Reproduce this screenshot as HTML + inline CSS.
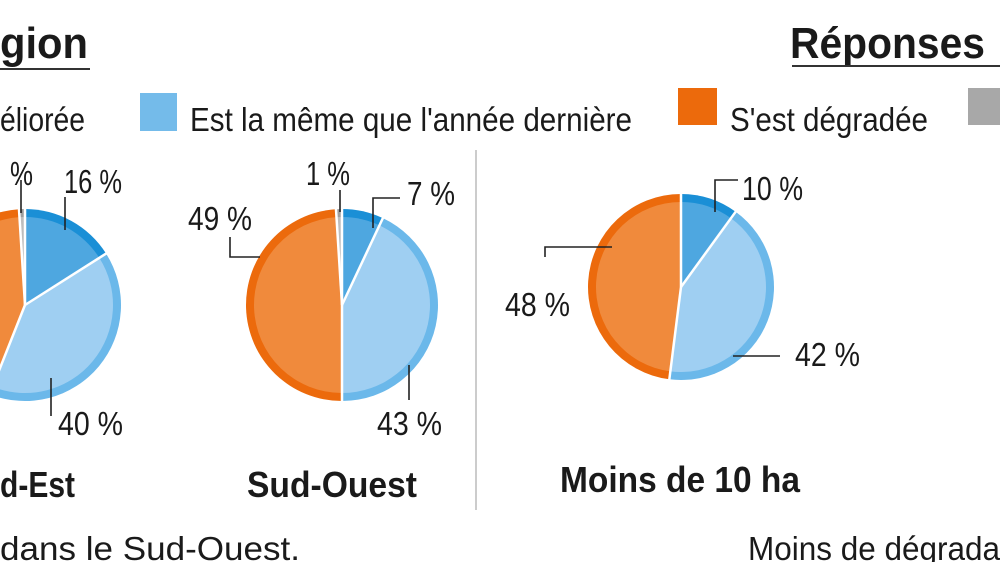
<!DOCTYPE html>
<html><head><meta charset="utf-8"><style>
body{margin:0;background:#fff;}
svg{display:block;font-family:"Liberation Sans",sans-serif;}
.t{fill:#1a1a1a;font-size:33px;}
.b{font-weight:bold;font-size:36px;fill:#1a1a1a;}
.l{stroke:#222;stroke-width:1.6;fill:none;}
</style></head><body>
<svg id="c" width="1000" height="562" viewBox="0 0 1000 562">
<text x="0" y="58" class="b" style="font-size:44px" textLength="88" lengthAdjust="spacingAndGlyphs">gion</text>
<line x1="0" y1="69" x2="90" y2="69" stroke="#333" stroke-width="2"/>
<text x="790" y="58" class="b" style="font-size:44px" textLength="195" lengthAdjust="spacingAndGlyphs">Réponses</text>
<line x1="792" y1="66" x2="1000" y2="66" stroke="#333" stroke-width="2"/>
<g>
<text x="0" y="131" class="t" textLength="85" lengthAdjust="spacingAndGlyphs">éliorée</text>
<rect x="140" y="93" width="37" height="38" fill="#74bbea"/>
<text x="190" y="131" class="t" textLength="442" lengthAdjust="spacingAndGlyphs">Est la même que l'année dernière</text>
<rect x="678" y="88" width="39" height="37" fill="#ec6a0c"/>
<text x="730" y="131" class="t" textLength="198" lengthAdjust="spacingAndGlyphs">S'est dégradée</text>
<rect x="968" y="88" width="40" height="37" fill="#a8a8a8"/>
</g>
<line x1="476" y1="150" x2="476" y2="510" stroke="#bbb" stroke-width="1.5"/>
<g id="pies"></g>
<g>
<text x="10" y="185" class="t" textLength="23" lengthAdjust="spacingAndGlyphs">%</text>
<path class="l" d="M21 180V213"/>
<text x="64" y="193" class="t" textLength="58" lengthAdjust="spacingAndGlyphs">16 %</text>
<path class="l" d="M65 197V230"/>
<text x="58" y="435" class="t" textLength="65" lengthAdjust="spacingAndGlyphs">40 %</text>
<path class="l" d="M51 378V416"/>
<text x="306" y="185" class="t" textLength="44" lengthAdjust="spacingAndGlyphs">1 %</text>
<path class="l" d="M340 190V212"/>
<text x="407" y="205" class="t" textLength="48" lengthAdjust="spacingAndGlyphs">7 %</text>
<path class="l" d="M400 198H373V228"/>
<text x="188" y="230" class="t" textLength="64" lengthAdjust="spacingAndGlyphs">49 %</text>
<path class="l" d="M230 237V257H260"/>
<text x="377" y="435" class="t" textLength="65" lengthAdjust="spacingAndGlyphs">43 %</text>
<path class="l" d="M409 365V400"/>
<text x="742" y="200" class="t" textLength="61" lengthAdjust="spacingAndGlyphs">10 %</text>
<path class="l" d="M738 180H715V212"/>
<text x="505" y="316" class="t" textLength="65" lengthAdjust="spacingAndGlyphs">48 %</text>
<path class="l" d="M545 257V247H612"/>
<text x="795" y="366" class="t" textLength="65" lengthAdjust="spacingAndGlyphs">42 %</text>
<path class="l" d="M733 356H780"/>
</g>
<text x="0" y="497" class="b" textLength="75" lengthAdjust="spacingAndGlyphs">d-Est</text>
<text x="247" y="497" class="b" textLength="170" lengthAdjust="spacingAndGlyphs">Sud-Ouest</text>
<text x="560" y="492" class="b" textLength="240" lengthAdjust="spacingAndGlyphs">Moins de 10 ha</text>
<text x="0" y="560" class="t" textLength="300" lengthAdjust="spacingAndGlyphs">dans le Sud-Ouest.</text>
<text x="748" y="560" class="t" textLength="252" lengthAdjust="spacingAndGlyphs">Moins de dégrada</text>
</svg>
<script>
const pieNames=["sud-est","sud-ouest","moins-de-10-ha"];
const improved=[16,7,10];
const same=[40,43,42];
const degraded=[43,49,48];
const other=[1,1,0];
const centers=[[25,305],[342,305],[681,287]];
const radii=[96,96,93];
const outerCol=["#1a8fd6","#6bb8ea","#ec6a0c","#9e9e9e"];
const innerCol=["#4ea7e0","#9fcff2","#f08a3c","#bdbdbd"];
const seriesNames=["improved","same","degraded","other"];
const NS="http://www.w3.org/2000/svg";
const g=document.getElementById("pies");
function ang(p){return p/100*2*Math.PI;}
function arc(cx,cy,r,a0,a1){
 const x0=cx+r*Math.sin(a0),y0=cy-r*Math.cos(a0),x1=cx+r*Math.sin(a1),y1=cy-r*Math.cos(a1);
 const large=(a1-a0)>Math.PI?1:0;
 return `M${cx},${cy}L${x0},${y0}A${r},${r} 0 ${large} 1 ${x1},${y1}Z`;
}
pieNames.forEach((n,i)=>{
 const vals=[improved[i],same[i],degraded[i],other[i]];
 const tot=vals.reduce((a,b)=>a+b,0);
 const [cx,cy]=centers[i],r=radii[i];
 const pg=document.createElementNS(NS,"g");
 
 
 let acc=0;const bounds=[];
 vals.forEach((v,k)=>{
  if(v<=0)return;
  const a0=ang(acc/tot*100),a1=ang((acc+v)/tot*100);acc+=v;bounds.push(a0);
  const o=document.createElementNS(NS,"path");
  o.setAttribute("d",arc(cx,cy,r,a0,a1));
  o.setAttribute("fill",outerCol[k]);
  
  
  pg.appendChild(o);
  const inn=document.createElementNS(NS,"path");
  inn.setAttribute("d",arc(cx,cy,r-8,a0,a1));
  inn.setAttribute("fill",innerCol[k]);
  
  
  pg.appendChild(inn);
 });
 bounds.forEach(a=>{
  const ln=document.createElementNS(NS,"line");
  ln.setAttribute("x1",cx);ln.setAttribute("y1",cy);
  ln.setAttribute("x2",cx+(r+1)*Math.sin(a));ln.setAttribute("y2",cy-(r+1)*Math.cos(a));
  ln.setAttribute("stroke","#fff");ln.setAttribute("stroke-width","2.5");
  
  
  pg.appendChild(ln);
 });
 g.appendChild(pg);
});
</script>
</body></html>
